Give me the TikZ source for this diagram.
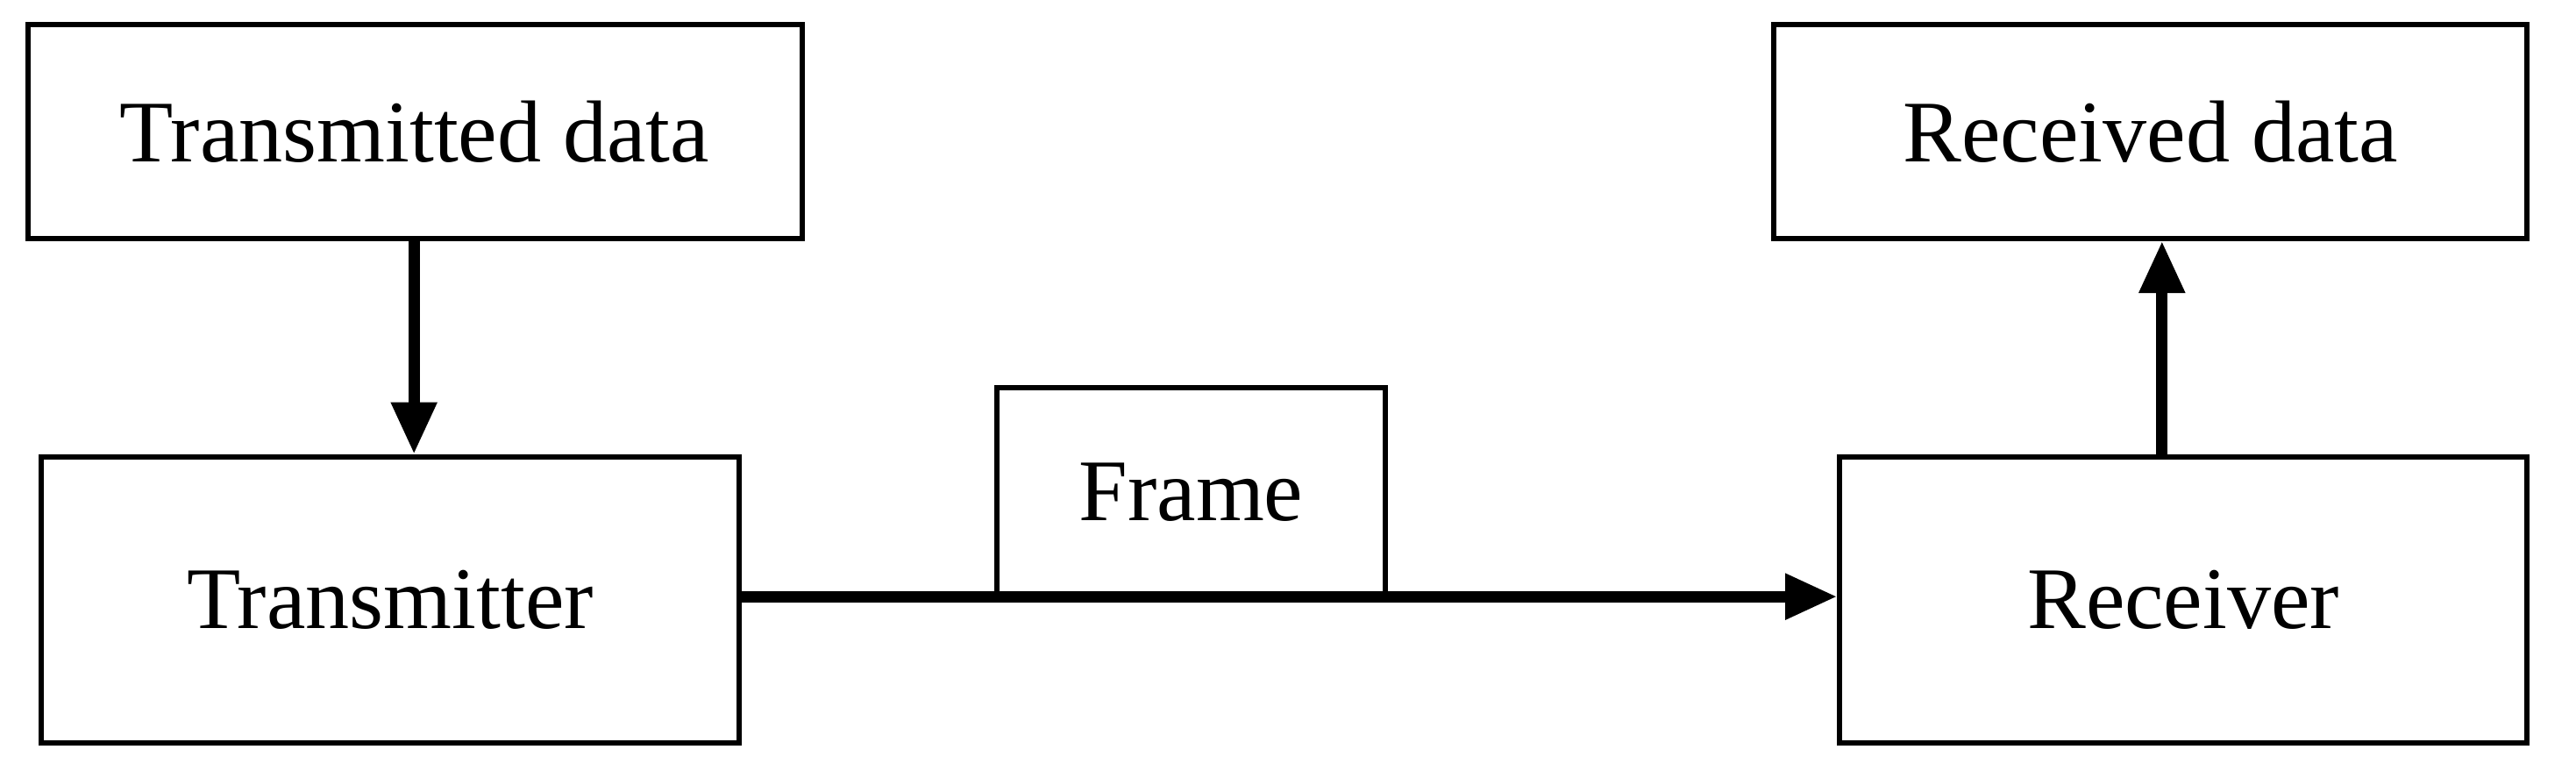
\documentclass[tikz,border=0pt]{standalone}
\usepackage{fontspec}
\setmainfont{Liberation Serif}
\usetikzlibrary{arrows.meta}
\begin{document}
\begin{tikzpicture}[x=0.01cm,y=-0.01cm,
  box/.style={draw,line width=0.9pt,inner sep=0pt,font=\fontsize{15.2}{18}\selectfont},
  conn/.style={line width=2pt,-{Triangle[length=9pt,width=7.5pt]}}]
\useasboundingbox (0,0) rectangle (1568,469);
\node[box,minimum width=4.71cm,minimum height=1.30cm] (td) at (252.5,80) {Transmitted data};
\node[box,minimum width=4.25cm,minimum height=1.74cm] (tx) at (237.5,365) {Transmitter};
\node[box,minimum width=2.36cm,minimum height=1.27cm] (fr) at (725,299.5) {Frame};
\node[box,minimum width=4.58cm,minimum height=1.30cm] (rd) at (1309,80) {Received data};
\node[box,minimum width=4.18cm,minimum height=1.74cm] (rx) at (1329,365) {Receiver};
\draw[conn] (td.south -| 252,0) -- (tx.north -| 252,0);
\draw[conn] (tx.east |- 0,363) -- (rx.west |- 0,363);
\draw[conn] (rx.north -| 1316,0) -- (rd.south -| 1316,0);
\end{tikzpicture}
\end{document}
